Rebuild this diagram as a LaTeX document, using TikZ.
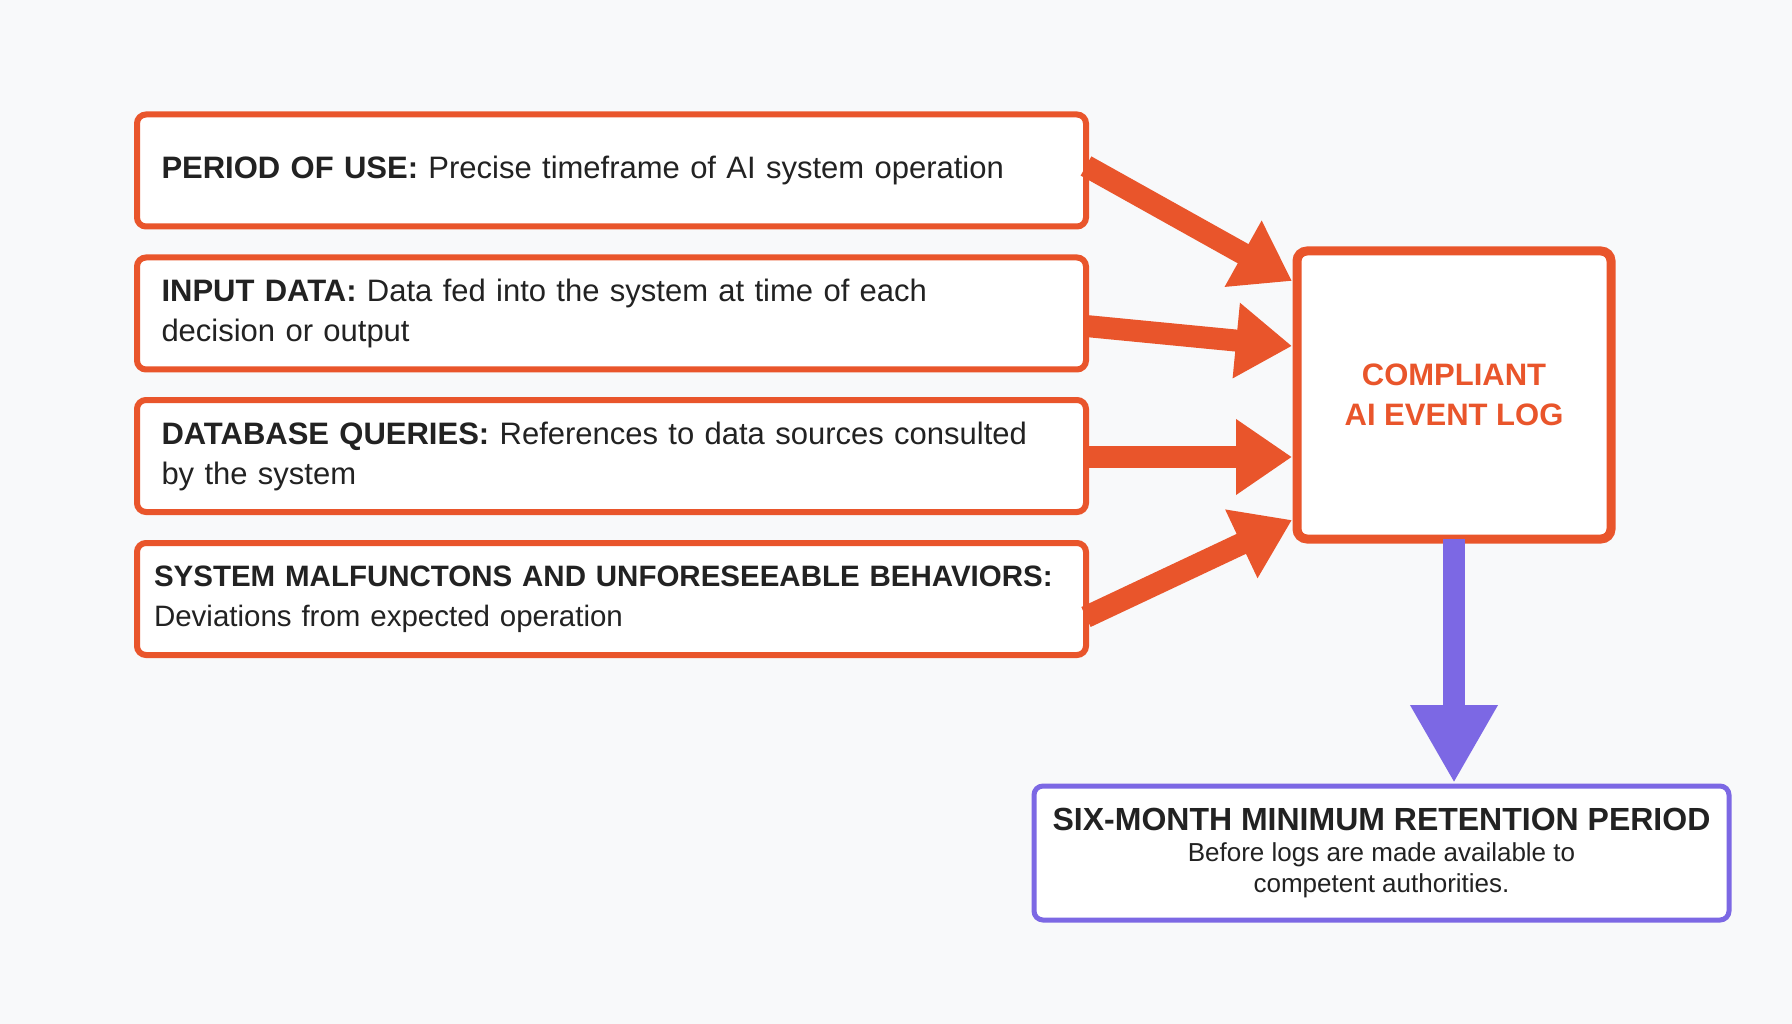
\documentclass[tikz,border=0pt]{standalone}
\usepackage{fontspec}
\setmainfont{Liberation Sans}
\usetikzlibrary{arrows.meta}
\definecolor{org}{HTML}{E9552B}
\definecolor{pur}{HTML}{7C68E4}
\definecolor{bg}{HTML}{F8F9FA}
\definecolor{txt}{HTML}{222222}
\begin{document}
\begin{tikzpicture}[x=1pt,y=-1pt,
  src/.style={draw=org,line width=6pt,rounded corners=9pt,fill=white,minimum width=949pt,minimum height=112pt,text width=900pt,align=left,inner sep=0pt,font=\fontsize{31}{40}\selectfont,text=txt},
  arr/.style={org,line width=22pt,-{Triangle[width=72pt,length=56pt]}},
]
\fill[bg] (0,0) rectangle (1792,1024);
\node[src] (a) at (611.5,170.5) {\textbf{PERIOD OF USE:} Precise timeframe of AI system operation};
\node[src] (b) at (611.5,313.5) {\textbf{INPUT DATA:} Data fed into the system at time of each\\decision or output};
\node[src] (c) at (611.5,456) {\textbf{DATABASE QUERIES:} References to data sources consulted\\by the system};
\node[src,text width=915pt,font=\fontsize{29.5}{40}\selectfont] (d) at (611.5,599) {\textbf{SYSTEM MALFUNCTONS AND UNFORESEEABLE BEHAVIORS:}\\Deviations from expected operation};
\node[draw=org,line width=9pt,rounded corners=10pt,fill=white,minimum width=314pt,minimum height=288pt,align=center,text=org,font=\bfseries\fontsize{31}{40}\selectfont] (log) at (1454,395) {COMPLIANT\\AI EVENT LOG};
\node[draw=pur,line width=5pt,rounded corners=9pt,fill=white,minimum width=695pt,minimum height=134pt,align=center,text=txt,font=\fontsize{26}{31}\selectfont] (ret) at (1381.5,853) {{\bfseries\fontsize{32}{38}\selectfont SIX-MONTH MINIMUM RETENTION PERIOD}\\Before logs are made available to\\competent authorities.};
\coordinate (a1) at (1086,166);
\coordinate (b1) at (1086,326);
\coordinate (c1) at (1086,457);
\coordinate (d1) at (1086,617);
\coordinate (p1) at (1454,539);
\coordinate (p2) at (1454,783);
\draw[arr] (a1) -- (1292,281);
\draw[arr] (b1) -- (1292,346);
\draw[arr] (c1) -- (1292,457);
\draw[arr] (d1) -- (1292,520);
\draw[pur,line width=22pt,-{Triangle[width=82pt,length=78pt]}] (p1) -- (p2);
\end{tikzpicture}
\end{document}
